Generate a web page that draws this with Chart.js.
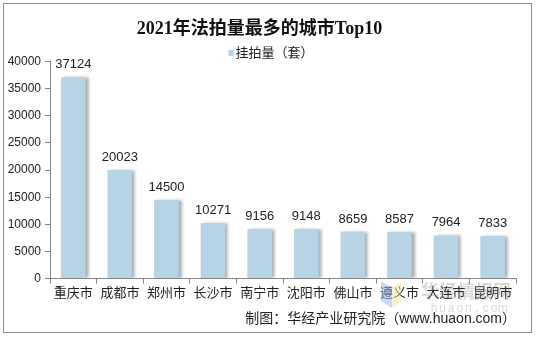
<!DOCTYPE html>
<html>
<head>
<meta charset="utf-8">
<script src="https://cdn.jsdelivr.net/npm/chart.js@4/dist/chart.umd.min.js"></script>
<style>
  html, body { margin: 0; padding: 0; background: #fff; }
  #wrap { position: relative; width: 536px; height: 337px; }
  #frame { position: absolute; left: 3px; top: 3px; width: 527px; height: 328px; border: 1px solid #8c8c8c; box-sizing: content-box; pointer-events: none; }
</style>
</head>
<body>
<div id="wrap">
  <canvas id="grafico" width="536" height="337"></canvas>
  <div id="frame"></div>
</div>
<script>
// datos
const ciudades = ['重庆市', '成都市', '郑州市', '长沙市', '南宁市', '沈阳市', '佛山市', '遵义市', '大连市', '昆明市'];
const volumen = [37124, 20023, 14500, 10271, 9156, 9148, 8659, 8587, 7964, 7833];
const ticksY = [0, 5000, 10000, 15000, 20000, 25000, 30000, 35000, 40000];

const fuente = '"Liberation Sans", "Noto Sans CJK SC", sans-serif';
const colorBarra = '#b7d3e6';

// sombra gris a la derecha de las barras
const sombra = {
    id: 'sombra',
    beforeDatasetDraw(chart) {
        const ctx = chart.ctx;
        ctx.save();
        ctx.shadowColor = 'rgba(60,60,60,0.45)';
        ctx.shadowOffsetX = 3;
        ctx.shadowOffsetY = 0;
        ctx.shadowBlur = 3;
    },
    afterDatasetDraw(chart) {
        chart.ctx.restore();
    }
};

// valores encima de cada barra
const etiquetas = {
    id: 'etiquetas',
    afterDatasetsDraw(chart) {
        const ctx = chart.ctx;
        const meta = chart.getDatasetMeta(0);
        ctx.save();
        ctx.font = '13px ' + fuente;
        ctx.fillStyle = '#222';
        ctx.textAlign = 'center';
        ctx.textBaseline = 'bottom';
        meta.data.forEach((bar, i) => {
            ctx.fillText(String(chart.data.datasets[0].data[i]), bar.x, bar.y - 6);
        });
        ctx.restore();
    }
};

// leyenda pegada al área del gráfico, bajo el título
const leyenda = {
    id: 'leyenda',
    afterDraw(chart) {
        const ctx = chart.ctx;
        const ds = chart.data.datasets[0];
        ctx.save();
        ctx.font = '13px ' + fuente;
        const ancho = ctx.measureText(ds.label).width;
        const x0 = chart.width / 2 - (ancho + 7) / 2 + 3;
        ctx.fillStyle = ds.backgroundColor;
        ctx.fillRect(x0, 50, 5, 6);
        ctx.fillStyle = '#222';
        ctx.textBaseline = 'middle';
        ctx.fillText(ds.label, x0 + 7, 53);
        ctx.restore();
    }
};

// marca de agua del sitio
const marca = {
    id: 'marca',
    afterDraw(chart) {
        const ctx = chart.ctx;
        ctx.save();
        ctx.globalAlpha = 0.5;
        ctx.fillStyle = '#8fb4f0';
        ctx.beginPath();
        ctx.moveTo(381, 281); ctx.lineTo(392, 288); ctx.lineTo(392, 308); ctx.lineTo(381, 301);
        ctx.closePath(); ctx.fill();
        ctx.fillStyle = '#f3e39a';
        ctx.beginPath();
        ctx.moveTo(392, 288); ctx.lineTo(401, 282); ctx.lineTo(401, 302); ctx.lineTo(392, 308);
        ctx.closePath(); ctx.fill();
        ctx.globalAlpha = 0.25;
        ctx.fillStyle = '#666';
        ctx.font = 'bold 18px "Noto Sans CJK SC", sans-serif';
        ctx.textBaseline = 'middle';
        ctx.fillText('华经情报网', 421, 291);
        ctx.font = '12px "Liberation Sans", sans-serif';
        ctx.textAlign = 'center';
        'huaon.com'.split('').forEach((c, i) => ctx.fillText(c, 434 + i * 8.6, 309));
        ctx.restore();
    }
};

const ctx = document.getElementById('grafico').getContext('2d');
const grafico = new Chart(ctx, {
    type: 'bar',
    data: {
        labels: ciudades,
        datasets: [{
            label: '挂拍量（套）',
            data: volumen,
            backgroundColor: colorBarra,
            borderWidth: 0,
            categoryPercentage: 1,
            barPercentage: 0.53
        }]
    },
    options: {
        responsive: false,
        animation: false,
        layout: { padding: { left: 3, right: 20, top: 4, bottom: 4 } },
        plugins: {
            title: {
                display: true,
                text: '2021年法拍量最多的城市Top10',
                color: '#111',
                font: { family: '"Liberation Serif", "Noto Sans CJK SC", serif', size: 18, weight: 'bold' },
                padding: { top: 15, bottom: 21 }
            },
            legend: { display: false },
            subtitle: {
                display: true,
                position: 'bottom',
                align: 'end',
                text: '制图：华经产业研究院（www.huaon.com）',
                color: '#222',
                font: { family: fuente, size: 14 },
                padding: { top: 8, bottom: 5 }
            },
            tooltip: { enabled: false }
        },
        scales: {
            x: {
                grid: { drawOnChartArea: false, tickLength: 5, color: '#868686', offset: true },
                border: { color: '#868686' },
                ticks: { color: '#222', font: { family: fuente, size: 13 }, padding: 2, maxRotation: 0, autoSkip: false }
            },
            y: {
                min: 0,
                max: 40000,
                afterBuildTicks(scale) {
                    scale.ticks = ticksY.map(v => ({ value: v }));
                },
                afterFit(scale) { scale.width = 47; },
                grid: { drawOnChartArea: false, tickLength: 5, color: '#868686' },
                border: { color: '#868686' },
                ticks: { color: '#222', font: { family: fuente, size: 12 }, padding: 4, callback: v => String(v) }
            }
        }
    },
    plugins: [sombra, etiquetas, leyenda, marca]
});
</script>
</body>
</html>
